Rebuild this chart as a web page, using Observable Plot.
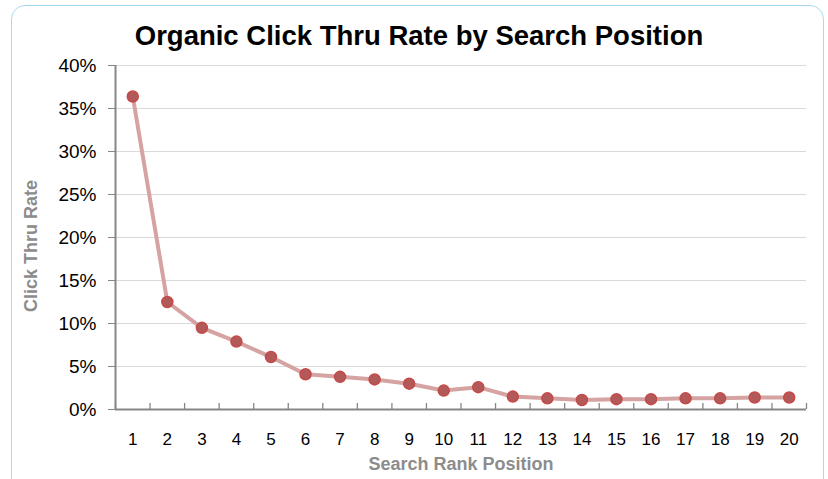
<!DOCTYPE html>
<html>
<head>
<meta charset="utf-8">
<script src="https://cdn.jsdelivr.net/npm/d3@7"></script>
<script src="https://cdn.jsdelivr.net/npm/@observablehq/plot@0.6"></script>
<style>
  html, body { margin: 0; padding: 0; background: #fff; }
  body { width: 828px; height: 479px; position: relative; overflow: hidden; font-family: "Liberation Sans", Arial, sans-serif; }
  #frame { position: absolute; left: 11px; top: 5px; width: 813px; height: 490px; border: 1.5px solid #a9d9f0; border-radius: 14px; box-sizing: border-box; }
  #title { position: absolute; left: 0; top: 36px; width: 838px; text-align: center; transform: translateY(-50%); font-weight: bold; font-size: 27.5px; line-height: 1; color: #000; }
  #chart { position: absolute; left: 0; top: 56px; }
  #ylabel { position: absolute; left: 31px; top: 246px; transform: translate(-50%, -50%) rotate(-90deg); font-weight: bold; font-size: 18px; color: #8c8c8c; white-space: nowrap; }
  #xlabel { position: absolute; left: 461px; top: 464px; transform: translate(-50%, -50%); font-weight: bold; font-size: 18px; color: #8c8c8c; white-space: nowrap; }
</style>
</head>
<body>
<div id="frame"></div>
<div id="title">Organic Click Thru Rate by Search Position</div>
<div id="chart"></div>
<div id="ylabel">Click Thru Rate</div>
<div id="xlabel">Search Rank Position</div>
<script>
const positions = [1,2,3,4,5,6,7,8,9,10,11,12,13,14,15,16,17,18,19,20];
const ctr = [36.4,12.5,9.5,7.9,6.1,4.1,3.8,3.5,3.0,2.2,2.6,1.5,1.3,1.1,1.2,1.2,1.3,1.3,1.4,1.4];
const yTicks = [0,5,10,15,20,25,30,35,40];

const data = positions.map((p, i) => ({position: p, ctr: ctr[i]}));
const bandEdges = d3.range(0.5, 21, 1);

const chart = Plot.plot({
  width: 828,
  height: 423,
  marginTop: 9,
  marginBottom: 70,
  marginLeft: 115,
  marginRight: 22,
  style: {fontFamily: '"Liberation Sans", Arial, sans-serif', fontSize: "17px", color: "#000", background: "transparent"},
  x: {domain: [0.5, 20.5], label: null},
  y: {domain: [0, 40], label: null},
  marks: [
    Plot.gridY(yTicks.filter(d => d > 0), {stroke: "#d9d9d9", strokeOpacity: 1, strokeWidth: 1}),
    Plot.axisY(yTicks, {tickSize: 7, tickPadding: 12, stroke: "#868686", tickFormat: d => d + "%", fontSize: 19, fill: "#000"}),
    Plot.axisX(positions, {tickSize: 0, tickPadding: 23, tickFormat: d => String(d), fontSize: 17, fill: "#000"}),
    Plot.ruleX(bandEdges, {x: d => d, y1: 0, y2: 0.7, stroke: "#868686", strokeWidth: 1.3}),
    Plot.ruleY([0], {stroke: "#868686", strokeWidth: 2}),
    Plot.ruleX([0.5], {stroke: "#868686", strokeWidth: 2}),
    Plot.line(data, {x: "position", y: "ctr", stroke: "#d4a3a2", strokeWidth: 4}),
    Plot.dot(data, {x: "position", y: "ctr", r: 5.5, fill: "#b2595a", stroke: "#c54a48", strokeWidth: 1.5})
  ]
});
document.getElementById("chart").appendChild(chart);
</script>
</body>
</html>
